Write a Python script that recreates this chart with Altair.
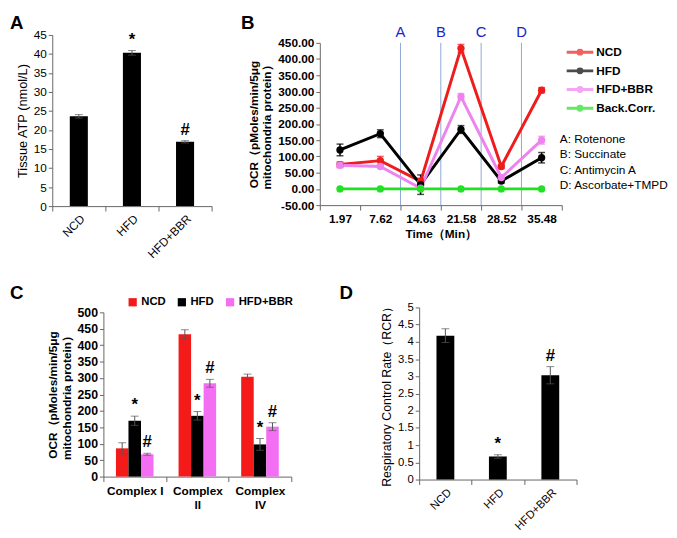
import altair as alt
import pandas as pd

FONT = "Liberation Sans"
AX = "#666666"

panel_letters = ["A", "B", "C", "D"]
groups = ["NCD", "HFD", "HFD+BBR"]

# ---- Panel A: tissue ATP
atp_mean = [23.6, 40.3, 16.9]
atp_err = [0.45, 0.6, 0.3]
atp_sig = ["", "*", "#"]

# ---- Panel B: OCR time course
times = ["1.97", "7.62", "14.63", "21.58", "28.52", "35.48"]
series_b = ["NCD", "HFD", "HFD+BBR", "Back.Corr."]
colors_b = ["#ee1c1c", "#000000", "#ee82ee", "#22e022"]
ocr_ncd = [75, 87, 23, 433, 69, 304]
ocr_ncd_err = [8, 13, 10, 12, 6, 8]
ocr_hfd = [120, 170, 13, 183, 24, 96]
ocr_hfd_err = [18, 12, 30, 12, 6, 16]
ocr_bbr = [73, 69, 2, 284, 35, 150]
ocr_bbr_err = [8, 5, 4, 10, 6, 12]
ocr_back = [0, 0, 0, 0, 0, 0]
ocr_back_err = [0, 0, 0, 0, 0, 0]
inj_letters = ["A", "B", "C", "D"]
inj_times = ["14.63", "21.58", "28.52", "35.48"]
inj_notes = ["A: Rotenone", "B: Succinate", "C: Antimycin A", "D: Ascorbate+TMPD"]

# ---- Panel C: OCR by complex
complexes = ["Complex I", "Complex II", "Complex IV"]
colors_c = ["#f41a1a", "#000000", "#f46ef4"]
c_ncd = [86, 433, 304]
c_ncd_err = [17, 14, 8]
c_hfd = [170, 185, 98]
c_hfd_err = [14, 13, 18]
c_bbr = [68, 284, 152]
c_bbr_err = [3, 12, 12]
c_sig = ["", "*", "#"]

# ---- Panel D: RCR
rcr_mean = [4.18, 0.67, 3.03]
rcr_err = [0.2, 0.05, 0.25]
rcr_sig = ["", "*", "#"]

ocr_title = ["OCR（pMoles/min/5μg", "mitochondria protein）"]


def ind(c):
    return c.resolve_scale(color="independent").resolve_legend(color="independent")


def letter_layer(letter, dx, dy):
    return alt.Chart(pd.DataFrame({"t": [letter]})).mark_text(
        align="left", baseline="top", font=FONT, fontSize=19, fontWeight="bold", color="black"
    ).encode(text="t:N", x=alt.value(dx), y=alt.value(dy))


def spacer():
    return alt.Chart(pd.DataFrame({"v": [0]})).mark_point(opacity=0, size=1).encode(
        x=alt.value(0), y=alt.value(0)).properties(width=1, height=1)


def wrap(panel):
    # puts the panel's top-left bound at the wrapper's origin
    return ind(alt.hconcat(spacer(), ind(alt.vconcat(spacer(), panel, spacing=0)), spacing=0))


def single_bar_panel(means, errs, sigs, ymax, yvals, ytitle, letter, dx, dy, w, h, fs):
    df = pd.DataFrame({"group": groups, "mean": means, "err": errs, "sig": sigs})
    df["lo"] = df["mean"] - df["err"]
    df["hi"] = df["mean"] + df["err"]
    xs = alt.Scale(domain=groups, paddingInner=0, paddingOuter=0)
    xa = alt.Axis(title=None, labelAngle=-45, tickBand="extent", labelFontSize=fs,
                  labelColor="black", domainColor=AX, tickColor=AX, tickSize=5, labelPadding=2)
    ys = alt.Scale(domain=[0, ymax], nice=False)
    ya = alt.Axis(title=ytitle, values=yvals, format="~g", grid=False, labelFontSize=fs,
                  labelColor="black", titleFontSize=fs + 1, titleFontWeight="normal",
                  titleColor="black", domainColor=AX, tickColor=AX, tickSize=4, titlePadding=4)
    X = alt.X("group:N", scale=xs, axis=xa)
    base = alt.Chart(df)
    bars = base.mark_bar(color="black", width=alt.RelativeBandSize(0.34)).encode(
        x=X, y=alt.Y("mean:Q", scale=ys, axis=ya))
    stems = base.mark_rule(color="#555555", strokeWidth=1).encode(
        x=X, y=alt.Y("lo:Q", scale=ys, axis=ya), y2="hi:Q")
    capt = base.mark_tick(color="#555555", size=8, thickness=1).encode(
        x=X, y=alt.Y("hi:Q", scale=ys, axis=ya))
    capb = base.mark_tick(color="#555555", size=8, thickness=1).encode(
        x=X, y=alt.Y("lo:Q", scale=ys, axis=ya))
    sig = base.mark_text(baseline="bottom", dy=-2, fontSize=17, fontWeight="bold",
                         color="black").encode(
        x=X, y=alt.Y("hi:Q", scale=ys, axis=ya), text="sig:N")
    return alt.layer(bars, stems, capt, capb, sig, letter_layer(letter, dx, dy)).properties(
        width=w, height=h)


# ---------------- Panel A
panelA = single_bar_panel(atp_mean, atp_err, atp_sig, 45, list(range(0, 46, 5)),
                          "Tissue ATP (nmol/L)", panel_letters[0], -43, -21, 162, 174, 12)

# ---------------- Panel B
rows = []
for s, vals, errs in zip(series_b, [ocr_ncd, ocr_hfd, ocr_bbr, ocr_back],
                         [ocr_ncd_err, ocr_hfd_err, ocr_bbr_err, ocr_back_err]):
    for t, v, e in zip(times, vals, errs):
        rows.append(dict(time=t, series=s, value=v, err=e, lo=v - e, hi=v + e))
dfB = pd.DataFrame(rows)
dfB_err = dfB[dfB["series"] != "Back.Corr."]

xsB = alt.Scale(domain=times, paddingInner=0, paddingOuter=0)
xaB = alt.Axis(title="Time（Min）", labelAngle=0, tickBand="extent", labelFontSize=12,
               labelFontWeight="bold", labelColor="black", titleFontSize=12,
               titleFontWeight="bold", titleColor="black", domainColor=AX, tickColor=AX,
               tickSize=5, labelPadding=4, titlePadding=4)
ysB = alt.Scale(domain=[-50, 450], nice=False, zero=False)
yaB = alt.Axis(title=ocr_title, values=list(range(-50, 451, 50)),
               labelExpr="(datum.value < 0 ? '-' : '') + format(abs(datum.value), '.2f')",
               grid=False, labelFontSize=12, labelFontWeight="bold", labelColor="black",
               titleFontSize=12, titleFontWeight="bold", titleColor="black",
               domainColor=AX, tickColor=AX, tickSize=4, titlePadding=4)
XB = alt.X("time:N", scale=xsB, axis=xaB)
legB = alt.Legend(title=None, orient="none", legendX=254, legendY=-1,
                  symbolType="M-1.5,0H1.5M-0.22,0A0.22,0.22,0,1,0,0.22,0A0.22,0.22,0,1,0,-0.22,0",
                  symbolSize=324, symbolStrokeWidth=3, labelFontSize=12,
                  labelFontWeight="bold", labelColor="black", labelOffset=6, rowPadding=0,
                  padding=0)
colB = alt.Color("series:N", scale=alt.Scale(domain=series_b, range=colors_b), legend=legB)

rulesB = alt.Chart(pd.DataFrame({"time": inj_times, "lab": inj_letters})).mark_rule(
    color="#8ca8d4", strokeWidth=1).encode(x=alt.X("time:N", scale=xsB, axis=xaB, bandPosition=0))
labsB = alt.Chart(pd.DataFrame({"time": inj_times, "lab": inj_letters})).mark_text(
    color="#2222cc", fontSize=15, baseline="middle").encode(
    x=alt.X("time:N", scale=xsB, axis=xaB, bandPosition=0), y=alt.value(-11), text="lab:N")
lineB = alt.Chart(dfB).mark_line(strokeWidth=3).encode(
    x=XB, y=alt.Y("value:Q", scale=ysB, axis=yaB), color=colB)
ptsB = alt.Chart(dfB).mark_point(filled=True, size=55, opacity=1).encode(
    x=XB, y=alt.Y("value:Q", scale=ysB, axis=yaB), color=colB)
stemB = alt.Chart(dfB_err).mark_rule(strokeWidth=1.5).encode(
    x=XB, y=alt.Y("lo:Q", scale=ysB, axis=yaB), y2="hi:Q", color=colB)
captB = alt.Chart(dfB_err).mark_tick(size=7, thickness=1.5).encode(
    x=XB, y=alt.Y("hi:Q", scale=ysB, axis=yaB), color=colB)
capbB = alt.Chart(dfB_err).mark_tick(size=7, thickness=1.5).encode(
    x=XB, y=alt.Y("lo:Q", scale=ysB, axis=yaB), color=colB)
notesB = alt.Chart(pd.DataFrame({"t": ["\n".join(inj_notes)]})).mark_text(
    align="left", baseline="top", lineBreak="\n", lineHeight=15.6, fontSize=12,
    color="black").encode(text="t:N", x=alt.value(244), y=alt.value(93))

panelB = alt.layer(rulesB, labsB, stemB, captB, capbB, lineB, ptsB, notesB,
                   letter_layer(panel_letters[1], -80, -29)).properties(width=246, height=165)

# ---------------- Panel C
rowsC = []
for g, vals, errs, sg in zip(groups, [c_ncd, c_hfd, c_bbr], [c_ncd_err, c_hfd_err, c_bbr_err], c_sig):
    for c, v, e in zip(complexes, vals, errs):
        rowsC.append(dict(complex=c, group=g, value=v, lo=v - e, hi=v + e, sig=sg))
dfC = pd.DataFrame(rowsC)

xsC = alt.Scale(domain=complexes, paddingInner=0, paddingOuter=0)
xaC = alt.Axis(title=None, labelAngle=0, tickBand="extent", labelFontSize=12,
               labelFontWeight="bold", labelColor="black", domainColor=AX, tickColor=AX,
               tickSize=5, labelPadding=4,
               labelExpr="datum.label == 'Complex I' ? datum.label : split(datum.label, ' ')")
ysC = alt.Scale(domain=[0, 500], nice=False)
yaC = alt.Axis(title=ocr_title, values=list(range(0, 501, 50)), grid=False, labelFontSize=12.5,
               labelFontWeight="bold", labelColor="black", titleFontSize=12,
               titleFontWeight="bold", titleColor="black", domainColor=AX, tickColor=AX,
               tickSize=4, titlePadding=4)
XC = alt.X("complex:N", scale=xsC, axis=xaC)
XOC = alt.XOffset("group:N", scale=alt.Scale(domain=groups, paddingInner=0, paddingOuter=1))
legC = alt.Legend(title=None, orient="none", legendX=24, legendY=-16, direction="horizontal",
                  symbolType="square", symbolSize=70, symbolStrokeWidth=0, labelFontSize=11.5,
                  labelFontWeight="bold", labelColor="black", labelOffset=3, columnPadding=10,
                  gridAlign="none", padding=0)
barsC = alt.Chart(dfC).mark_bar().encode(
    x=XC, xOffset=XOC, y=alt.Y("value:Q", scale=ysC, axis=yaC),
    color=alt.Color("group:N", scale=alt.Scale(domain=groups, range=colors_c), legend=legC))
stemC = alt.Chart(dfC).mark_rule(color="#555555", strokeWidth=1).encode(
    x=XC, xOffset=XOC, y=alt.Y("lo:Q", scale=ysC, axis=yaC), y2="hi:Q")
captC = alt.Chart(dfC).mark_tick(color="#555555", size=8, thickness=1).encode(
    x=XC, xOffset=XOC, y=alt.Y("hi:Q", scale=ysC, axis=yaC))
capbC = alt.Chart(dfC).mark_tick(color="#555555", size=8, thickness=1).encode(
    x=XC, xOffset=XOC, y=alt.Y("lo:Q", scale=ysC, axis=yaC))
sigC = alt.Chart(dfC).mark_text(baseline="bottom", dy=-2, fontSize=17, fontWeight="bold",
                                color="black").encode(
    x=XC, xOffset=XOC, y=alt.Y("hi:Q", scale=ysC, axis=yaC), text="sig:N")
panelC = alt.layer(barsC, stemC, captC, capbC, sigC,
                   letter_layer(panel_letters[2], -95, -29)).properties(width=191, height=167)

# ---------------- Panel D
panelD = single_bar_panel(rcr_mean, rcr_err, rcr_sig, 5, [i * 0.5 for i in range(11)],
                          "Respiratory Control Rate（RCR）", panel_letters[3], -81, -24,
                          160, 175, 11.5)

row1 = ind(alt.hconcat(wrap(panelA), wrap(panelB), spacing=27))
row2 = ind(alt.hconcat(wrap(panelC), wrap(panelD), spacing=45))
chart = ind(alt.vconcat(row1, row2, spacing=22))
chart = chart.configure_view(stroke=None).configure_axis(
    labelFont=FONT, titleFont=FONT).configure_legend(labelFont=FONT).configure_text(
    font=FONT).properties(padding=0)

chart.save("out.html", embed_options={"renderer": "svg", "actions": False})
